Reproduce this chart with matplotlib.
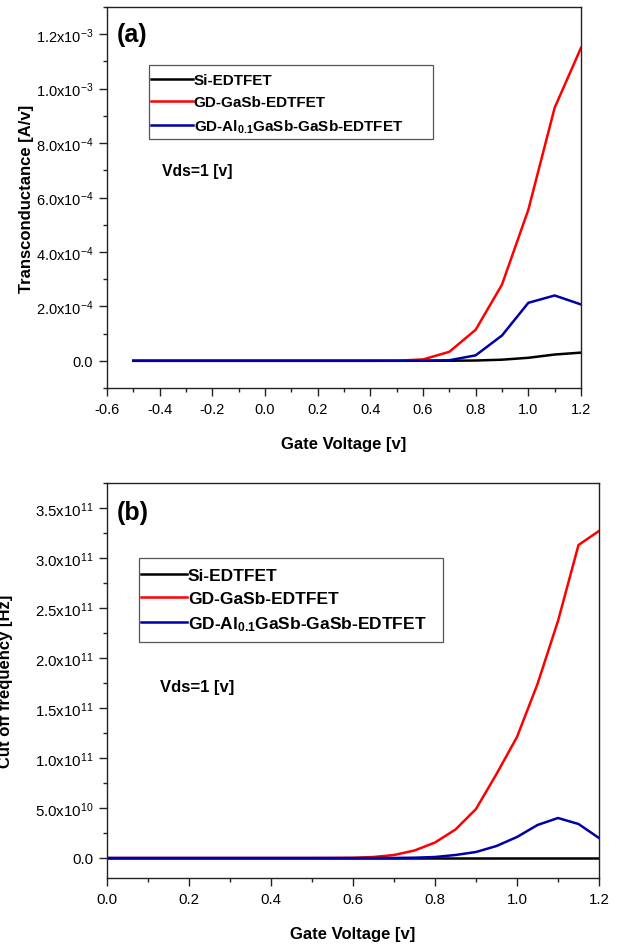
import matplotlib
matplotlib.use("Agg")
import matplotlib.pyplot as plt
from matplotlib.patches import Rectangle
from matplotlib.ticker import MultipleLocator, FixedLocator, FixedFormatter

plt.rcParams['font.family'] = ['Liberation Sans', 'DejaVu Sans']
plt.rcParams['mathtext.fontset'] = 'custom'
plt.rcParams['mathtext.rm'] = 'Liberation Sans'
plt.rcParams['mathtext.bf'] = 'Liberation Sans:bold'
plt.rcParams['mathtext.it'] = 'Liberation Sans:italic'

# ---- data ----
series_names = ['Si-EDTFET', 'GD-GaSb-EDTFET', r'GD-Al$_{\bf 0.1}$GaSb-GaSb-EDTFET']
series_colors = ['#000000', '#FF0000', '#0000A8']

# (a) transconductance vs gate voltage
vg_a = [-0.5, -0.4, -0.3, -0.2, -0.1, 0.0, 0.1, 0.2, 0.3, 0.4, 0.5, 0.6, 0.7, 0.8, 0.9, 1.0, 1.1, 1.2]
gm_si = [0, 0, 0, 0, 0, 0, 0, 0, 0, 0, 0, 0, 2e-7, 1e-6, 4e-6, 1.1e-5, 2.3e-5, 3.0e-5]
gm_gasb = [0, 0, 0, 0, 0, 0, 0, 0, 0, 0, 2e-7, 5e-6, 3.3e-5, 1.14e-4, 2.8e-4, 5.55e-4, 9.3e-4, 1.15e-3]
gm_algasb = [0, 0, 0, 0, 0, 0, 0, 0, 0, 0, 0, 2e-7, 2e-6, 2e-5, 9.3e-5, 2.13e-4, 2.4e-4, 2.07e-4]

# (b) cut-off frequency vs gate voltage
vg_b = [0.0, 0.05, 0.1, 0.15, 0.2, 0.25, 0.3, 0.35, 0.4, 0.45, 0.5, 0.55, 0.6,
        0.65, 0.7, 0.75, 0.8, 0.85, 0.9, 0.95, 1.0, 1.05, 1.1, 1.15, 1.2]
ft_si = [0] * 25
ft_gasb = [0, 0, 0, 0, 0, 0, 0, 0, 0, 0, 0, 5e7, 2e8, 1.0e9, 3.0e9, 7.5e9, 1.55e10,
           2.85e10, 4.9e10, 8.4e10, 1.21e11, 1.74e11, 2.37e11, 3.13e11, 3.27e11]
ft_algasb = [0, 0, 0, 0, 0, 0, 0, 0, 0, 0, 0, 0, 0, 0, 5e7, 3e8, 1.0e9, 3.0e9,
             6.0e9, 1.2e10, 2.1e10, 3.3e10, 4.0e10, 3.4e10, 2.0e10]

ticks_a_y = [0.0, 2e-4, 4e-4, 6e-4, 8e-4, 1.0e-3, 1.2e-3]
ticklabels_a_y = ['0.0', r'2.0x10$^{-4}$', r'4.0x10$^{-4}$', r'6.0x10$^{-4}$',
                  r'8.0x10$^{-4}$', r'1.0x10$^{-3}$', r'1.2x10$^{-3}$']
ticks_b_y = [0.0, 5e10, 1.0e11, 1.5e11, 2.0e11, 2.5e11, 3.0e11, 3.5e11]
ticklabels_b_y = ['0.0', r'5.0x10$^{10}$', r'1.0x10$^{11}$', r'1.5x10$^{11}$',
                  r'2.0x10$^{11}$', r'2.5x10$^{11}$', r'3.0x10$^{11}$', r'3.5x10$^{11}$']

W, H = 618, 945
fig = plt.figure(figsize=(W / 100, H / 100), dpi=100)


def px_axes(left, top, right, bottom):
    return fig.add_axes([left / W, 1 - bottom / H, (right - left) / W, (bottom - top) / H])


def fig_xy(x, y):
    return (x / W, 1 - y / H)


def style(ax, size):
    for s in ax.spines.values():
        s.set_color('#222222')
        s.set_linewidth(1.0)
    ax.tick_params(which='major', direction='out', length=5.5, width=1.0, pad=4.5,
                   labelsize=size, color='#222222', top=False, right=False)
    ax.tick_params(which='minor', direction='out', length=3, width=1.0,
                   color='#222222', top=False, right=False)


def legend_box(ax, handles_xy, box, size, spacing, hlen):
    leg = ax.legend(loc='upper left', bbox_to_anchor=fig_xy(*handles_xy),
                    bbox_transform=fig.transFigure, borderaxespad=0, borderpad=0,
                    frameon=False, handlelength=hlen, handletextpad=0.05,
                    labelspacing=spacing, prop={'weight': 'bold', 'size': size})
    x0, y0, x1, y1 = box
    rect = Rectangle(fig_xy(x0, y1), (x1 - x0) / W, (y1 - y0) / H,
                     transform=fig.transFigure, fill=False,
                     edgecolor='#555555', linewidth=0.9)
    fig.add_artist(rect)
    return leg


# ---- panel (a) ----
ax1 = px_axes(107, 8, 581, 389)
ys_a = [gm_si, gm_gasb, gm_algasb]
for y, c, n in zip(ys_a, series_colors, series_names):
    ax1.plot(vg_a, y, color=c, lw=1.8, label=n)
ax1.set_xlim(-0.6, 1.2)
ax1.set_ylim(-1e-4, 1.3e-3)
ax1.xaxis.set_major_locator(MultipleLocator(0.2))
ax1.xaxis.set_minor_locator(MultipleLocator(0.1))
ax1.yaxis.set_major_locator(FixedLocator(ticks_a_y))
ax1.yaxis.set_major_formatter(FixedFormatter(ticklabels_a_y))
ax1.yaxis.set_minor_locator(MultipleLocator(1e-4))
ax1.xaxis.set_major_formatter(plt.FuncFormatter(lambda v, p: f'{v:.1f}'))
style(ax1, 10.5)
ax1.set_xlabel('Gate Voltage [v]', fontsize=12, fontweight='bold')
ax1.set_ylabel('Transconductance [A/v]', fontsize=12, fontweight='bold')
ax1.xaxis.set_label_coords(0.5, -0.126)
ax1.yaxis.set_label_coords(-0.154, 0.5)
legend_box(ax1, (151, 74), (149, 66, 433, 140), 11, 0.55, 2.75)
ax1.text(0.021, 0.929, '(a)', transform=ax1.transAxes, fontsize=18,
         fontweight='bold', va='center', ha='left')
ax1.text(0.116, 0.5696, 'Vds=1 [v]', transform=ax1.transAxes, fontsize=11.3,
         fontweight='bold', va='center', ha='left')

# ---- panel (b) ----
ax2 = px_axes(107, 484, 599, 879)
ys_b = [ft_si, ft_gasb, ft_algasb]
for y, c, n in zip(ys_b, series_colors, series_names):
    ax2.plot(vg_b, y, color=c, lw=1.8, label=n)
ax2.set_xlim(0.0, 1.2)
ax2.set_ylim(-2e10, 3.75e11)
ax2.xaxis.set_major_locator(MultipleLocator(0.2))
ax2.xaxis.set_minor_locator(MultipleLocator(0.1))
ax2.yaxis.set_major_locator(FixedLocator(ticks_b_y))
ax2.yaxis.set_major_formatter(FixedFormatter(ticklabels_b_y))
ax2.yaxis.set_minor_locator(MultipleLocator(2.5e10))
ax2.xaxis.set_major_formatter(plt.FuncFormatter(lambda v, p: f'{v:.1f}'))
style(ax2, 10.8)
ax2.set_xlabel('Gate Voltage [v]', fontsize=12, fontweight='bold')
ax2.set_ylabel('Cut off frequency [Hz]', fontsize=12, fontweight='bold')
ax2.xaxis.set_label_coords(0.5, -0.1215)
ax2.yaxis.set_label_coords(-0.191, 0.5)
legend_box(ax2, (141, 569), (139, 559, 443, 643), 12.5, 0.46, 2.65)
ax2.text(0.02, 0.927, '(b)', transform=ax2.transAxes, fontsize=18,
         fontweight='bold', va='center', ha='left')
ax2.text(0.108, 0.484, 'Vds=1 [v]', transform=ax2.transAxes, fontsize=12,
         fontweight='bold', va='center', ha='left')

fig.savefig('out.png', dpi=100)
